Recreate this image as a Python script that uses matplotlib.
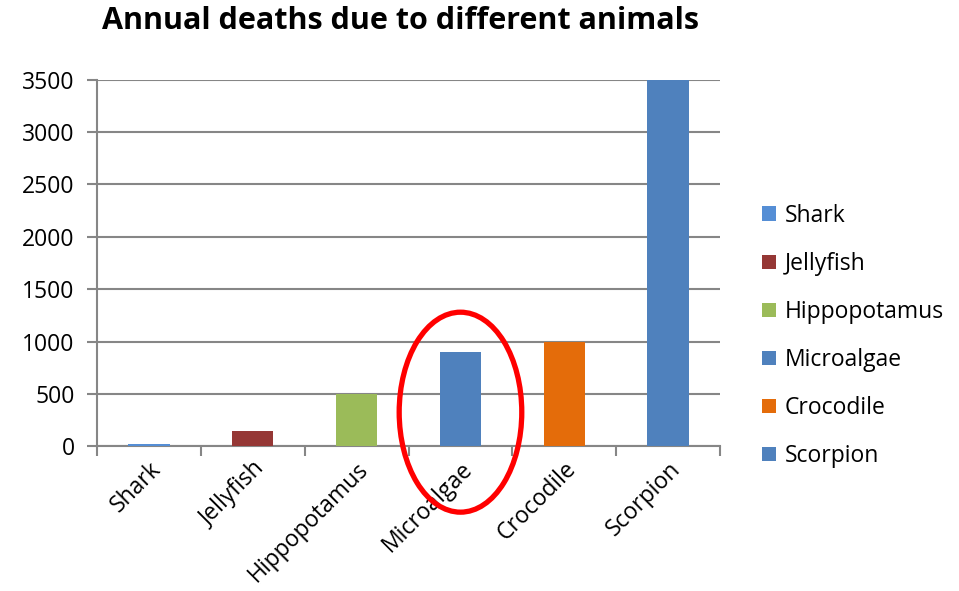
import matplotlib.pyplot as plt
from matplotlib.patches import Ellipse, Patch

animals = ['Shark', 'Jellyfish', 'Hippopotamus', 'Microalgae', 'Crocodile', 'Scorpion']
deaths = [20, 150, 500, 900, 1000, 3500]
colors = ['#558ED5', '#953735', '#9BBB59', '#4F81BD', '#E46C0A', '#4F81BD']
yticks = [0, 500, 1000, 1500, 2000, 2500, 3000, 3500]
highlight = 'Microalgae'

plt.rcParams['font.family'] = ['Open Sans', 'DejaVu Sans']

fig = plt.figure(figsize=(9.59, 5.91), dpi=100)
ax = fig.add_axes([0.101, 0.245, 0.650, 0.620])

x = list(range(len(animals)))
ax.bar(x, deaths, width=0.4, color=colors, zorder=3)

ax.set_xlim(-0.5, len(animals) - 0.5)
ax.set_ylim(0, 3500)
ax.set_yticks(yticks)
ax.set_yticklabels([str(v) for v in yticks], fontsize=16.5)
ax.yaxis.grid(True, color='#868686', linewidth=1.5, zorder=0)

ax.set_xticks([i - 0.5 for i in range(len(animals) + 1)])
ax.set_xticklabels([])
ax.set_xticks(x, minor=True)
ax.set_xticklabels(animals, minor=True, rotation=45, ha='right',
                   rotation_mode='anchor', fontsize=16.5)
ax.tick_params(axis='x', which='minor', length=0, pad=8)
ax.tick_params(axis='x', which='major', length=7, width=1.5, color='#868686')
ax.tick_params(axis='y', length=7, width=1.5, color='#868686', pad=9)

for s in ['top', 'right']:
    ax.spines[s].set_visible(False)
for s in ['left', 'bottom']:
    ax.spines[s].set_color('#868686')
    ax.spines[s].set_linewidth(1.5)

hi = animals.index(highlight)
ring = Ellipse((hi, 325), width=1.18, height=1910, fill=False,
               edgecolor='#FF0000', linewidth=3.8, clip_on=False, zorder=5)
ax.add_patch(ring)

handles = [Patch(facecolor=c, edgecolor='none') for c in colors]
fig.legend(handles, animals, loc='upper left', bbox_to_anchor=(0.773, 0.69),
           frameon=False, fontsize=16.5, handlelength=0.6, handleheight=0.6,
           handletextpad=0.4, labelspacing=1.05)

fig.suptitle('Annual deaths due to different animals', x=0.418, y=0.99,
             fontsize=22, fontweight='bold')

fig.savefig('out.png', dpi=100)
